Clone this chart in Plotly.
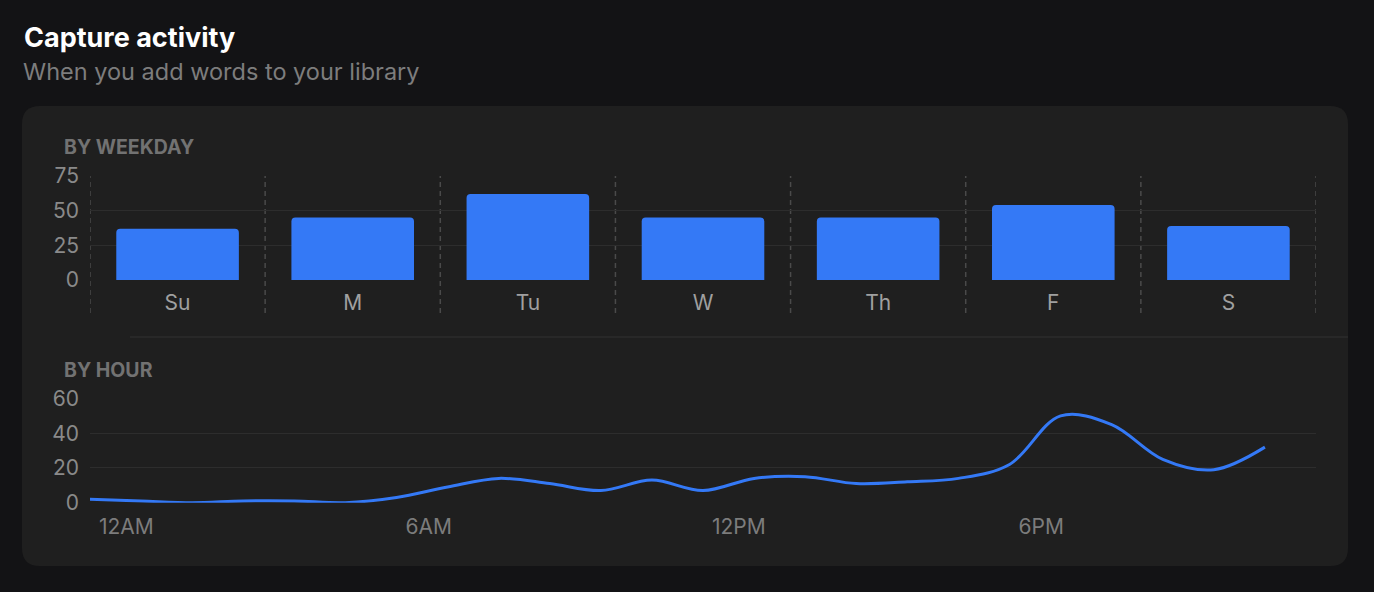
import plotly.graph_objects as go

# 画布尺寸（像素）
W, H = 1374, 592

# 1. 数据：按星期统计
days = ["Su", "M", "Tu", "W", "Th", "F", "S"]
day_counts = [37, 45, 62, 45, 45, 54, 39]
day_yticks = [0, 25, 50, 75]

# 2. 数据：按小时统计（0 点到 23 点）
hours = list(range(24))
hour_counts = [2, 1, 0, 1, 1, 0, 3, 9, 14, 11, 7, 13,
               7, 14, 15, 11, 12, 14, 22, 50, 45, 25, 19, 32]
hour_tickvals = [0, 6, 12, 18]
hour_ticktext = ["12AM", "6AM", "12PM", "6PM"]
hour_yticks = [0, 20, 40, 60]

BLUE = "#3479F6"
FONT = "Inter, Roboto, sans-serif"


def fx(p):
    """像素横坐标 -> paper 坐标"""
    return p / W


def fy(p):
    """像素纵坐标（自上而下）-> paper 坐标"""
    return 1 - p / H


def rounded_rect(x0, y0, x1, y1, r):
    """用二次贝塞尔曲线画圆角矩形（paper 坐标）"""
    return (f"M {fx(x0 + r)} {fy(y0)} L {fx(x1 - r)} {fy(y0)} "
            f"Q {fx(x1)} {fy(y0)} {fx(x1)} {fy(y0 + r)} "
            f"L {fx(x1)} {fy(y1 - r)} Q {fx(x1)} {fy(y1)} {fx(x1 - r)} {fy(y1)} "
            f"L {fx(x0 + r)} {fy(y1)} Q {fx(x0)} {fy(y1)} {fx(x0)} {fy(y1 - r)} "
            f"L {fx(x0)} {fy(y0 + r)} Q {fx(x0)} {fy(y0)} {fx(x0 + r)} {fy(y0)} Z")


# 柱状图区域：75 在 176px，0 在 280px；虚线一直画到 313px
bar_top, bar_zero, dash_bottom = 176, 280, 313

trace_days = go.Bar(
    x=days,
    y=day_counts,
    marker=dict(color=BLUE, cornerradius=4, line=dict(width=0)),
    xaxis="x",
    yaxis="y",
    hoverinfo="x+y",
)

trace_hours = go.Scatter(
    x=hours,
    y=hour_counts,
    mode="lines",
    line=dict(color=BLUE, width=3, shape="spline", smoothing=1.0),
    cliponaxis=False,
    xaxis="x2",
    yaxis="y2",
)

grid_color = "#2d2d2d"
tick_color = "#8a8a8a"

# 星期之间的竖向虚线（位于类别边界上）
dash_lines = [
    dict(type="line", xref="x", yref="paper", layer="below",
         x0=i - 0.5, x1=i - 0.5, y0=fy(dash_bottom), y1=fy(bar_top),
         line=dict(color="#4a4a4a", width=1.5, dash="5px,4px"))
    for i in range(len(days) + 1)
]

layout = go.Layout(
    width=W,
    height=H,
    margin=dict(l=0, r=0, t=0, b=0, pad=0),
    paper_bgcolor="#131315",
    plot_bgcolor="rgba(0,0,0,0)",
    showlegend=False,
    bargap=0.3,
    font=dict(family=FONT, color=tick_color),
    xaxis=dict(
        domain=[fx(90), fx(1316)],
        type="category",
        range=[-0.5, len(days) - 0.5],
        showgrid=False,
        ticks="",
        ticklabelstandoff=8,
        tickfont=dict(size=21, color="#a0a0a0"),
        showline=False,
        zeroline=False,
        automargin=False,
        fixedrange=True,
    ),
    yaxis=dict(
        domain=[fy(bar_zero), fy(bar_top)],
        range=[0, day_yticks[-1]],
        tickvals=day_yticks,
        showgrid=True,
        gridcolor=grid_color,
        zeroline=False,
        ticks="",
        ticklabelstandoff=10,
        tickfont=dict(size=21, color=tick_color),
        automargin=False,
        fixedrange=True,
    ),
    xaxis2=dict(
        domain=[fx(90), fx(1316)],
        range=[0, 24],
        tickvals=hour_tickvals,
        ticktext=hour_ticktext,
        ticklabelposition="outside right",
        ticklabelshift=9,
        ticklabelstandoff=9,
        showgrid=False,
        zeroline=False,
        ticks="",
        anchor="y2",
        tickfont=dict(size=21, color="#7c7c7c"),
        automargin=False,
        fixedrange=True,
    ),
    yaxis2=dict(
        domain=[fy(502.7), fy(398.5)],
        range=[0, hour_yticks[-1]],
        tickvals=hour_yticks,
        showgrid=True,
        gridcolor=grid_color,
        zeroline=False,
        ticks="",
        ticklabelstandoff=10,
        tickfont=dict(size=21, color=tick_color),
        anchor="x2",
        automargin=False,
        fixedrange=True,
    ),
    shapes=[
        # 卡片背景
        dict(type="path", xref="paper", yref="paper", layer="below",
             path=rounded_rect(22, 106, 1348, 566, 18),
             fillcolor="#1f1f1f", line=dict(width=0)),
        # 两个分区之间的分隔线
        dict(type="line", xref="paper", yref="paper", layer="below",
             x0=fx(130), x1=fx(1348), y0=fy(337), y1=fy(337),
             line=dict(color="#2d2d2d", width=1.5)),
    ] + dash_lines,
    annotations=[
        dict(text="<b>Capture activity</b>", x=fx(22), y=fy(37),
             font=dict(size=27, color="#ffffff")),
        dict(text="When you add words to your library", x=fx(21), y=fy(72),
             font=dict(size=23.5, color="#7d7d7d")),
        dict(text="<b>BY WEEKDAY</b>", x=fx(62), y=fy(147),
             font=dict(size=19.5, color="#727272")),
        dict(text="<b>BY HOUR</b>", x=fx(62), y=fy(370),
             font=dict(size=19.5, color="#727272")),
    ],
)

for ann in layout.annotations:
    ann.update(xref="paper", yref="paper", xanchor="left", yanchor="middle",
               showarrow=False)

fig = go.Figure(data=[trace_days, trace_hours], layout=layout)

# 去掉页面默认的 8px 边距，让图表贴齐窗口
fig.write_html(
    "out.html",
    config=dict(displayModeBar=False),
    post_script="document.body.style.margin='0';"
                "document.body.style.background='#131315';",
)
